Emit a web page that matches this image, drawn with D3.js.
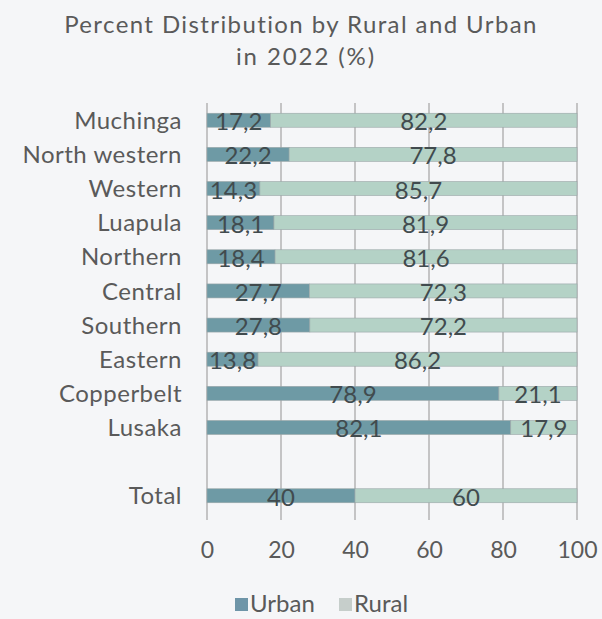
<!DOCTYPE html>
<html><head><meta charset="utf-8">
<script src="https://cdn.jsdelivr.net/npm/d3@7"></script>
<style>
html,body{margin:0;padding:0;background:#f5f6f8;}
svg{display:block;font-family:Lato,"Open Sans",sans-serif;}
</style></head>
<body>
<svg id="chart" width="602" height="619"></svg>
<script>
const categories = ["Muchinga","North western","Western","Luapula","Northern","Central","Southern","Eastern","Copperbelt","Lusaka","","Total"];
const urban = [17.2,22.2,14.3,18.1,18.4,27.7,27.8,13.8,78.9,82.1,null,40];
const rural = [82.2,77.8,85.7,81.9,81.6,72.3,72.2,86.2,21.1,17.9,null,60];
const xTicks = [0,20,40,60,80,100];
const seriesNames = ["Urban","Rural"];
const colors = {Urban:"#6e9aa5", Rural:"#b4d2c6"};
const legendColors = {Urban:"#6e95a8", Rural:"#c6cecb"};

const svg = d3.select("#chart");
const x = d3.scaleLinear().domain([0,100]).range([207,577]);
const y = d3.scaleBand().domain(categories.map((c,i)=>i)).range([103,513]).paddingInner(0.59).paddingOuter(0.3);
const fmt = v => (Number.isInteger(v) ? String(v) : v.toFixed(1).replace(".",","));

// title
svg.append("text").attr("x",301).attr("y",33).attr("text-anchor","middle")
  .attr("font-size",24).attr("letter-spacing",1.4).attr("fill","#5a5a5a").text("Percent Distribution by Rural and Urban");
svg.append("text").attr("x",306).attr("y",65).attr("text-anchor","middle")
  .attr("font-size",24).attr("letter-spacing",1.9).attr("fill","#5a5a5a").text("in 2022 (%)");

// gridlines
const grid = svg.append("g");
xTicks.forEach(t=>{
  grid.append("line").attr("x1",x(t)).attr("x2",x(t)).attr("y1",103).attr("y2",520)
    .attr("stroke","#a9a9a9").attr("stroke-width",1.3);
});

// bars
const rows = categories.map((c,i)=>({c,i,u:urban[i],r:rural[i]})).filter(d=>d.u!=null);
const bars = svg.append("g");
rows.forEach(d=>{
  const yy = y(d.i), h = y.bandwidth();
  bars.append("rect").attr("x",x(0)).attr("y",yy).attr("width",x(d.u)-x(0)).attr("height",h)
    .attr("fill",colors.Urban).attr("stroke","#9aa6a8").attr("stroke-width",0.6);
  bars.append("rect").attr("x",x(d.u)).attr("y",yy).attr("width",x(100)-x(d.u)).attr("height",h)
    .attr("fill",colors.Rural).attr("stroke","#9aa6a8").attr("stroke-width",0.6);
  bars.append("text").attr("x",(x(0)+x(d.u))/2).attr("y",yy+h/2+10).attr("text-anchor","middle")
    .attr("font-size",24).attr("fill","#414b4e").text(fmt(d.u));
  bars.append("text").attr("x",(x(d.u)+x(100))/2).attr("y",yy+h/2+10).attr("text-anchor","middle")
    .attr("font-size",24).attr("fill","#414b4e").text(fmt(d.r));
});

// category labels
const yAxis = d3.axisLeft(y).tickSize(0).tickPadding(0).tickFormat(i=>categories[i]);
const ya = svg.append("g").attr("transform","translate(182,0)").call(yAxis);
ya.select(".domain").remove();
ya.selectAll("text").attr("font-size",24).attr("letter-spacing",0.5).attr("fill","#5a5a5a").attr("font-family","Lato,sans-serif").attr("dy","0.36em");

// x axis
const xAxis = d3.axisBottom(x).tickValues(xTicks).tickSize(0).tickPadding(0);
const xa = svg.append("g").attr("transform","translate(0,558)").call(xAxis);
xa.select(".domain").remove();
xa.selectAll("text").attr("font-size",23).attr("fill","#5a5a5a").attr("font-family","Lato,sans-serif").attr("dy",0);

// legend
const lg = svg.append("g");
const lx = [235,339];
seriesNames.forEach((s,k)=>{
  lg.append("rect").attr("x",lx[k]).attr("y",598).attr("width",13).attr("height",13).attr("fill",legendColors[s]);
  lg.append("text").attr("x",lx[k]+15).attr("y",612).attr("font-size",24).attr("fill","#5a5a5a").text(s);
});
</script>
</body></html>
